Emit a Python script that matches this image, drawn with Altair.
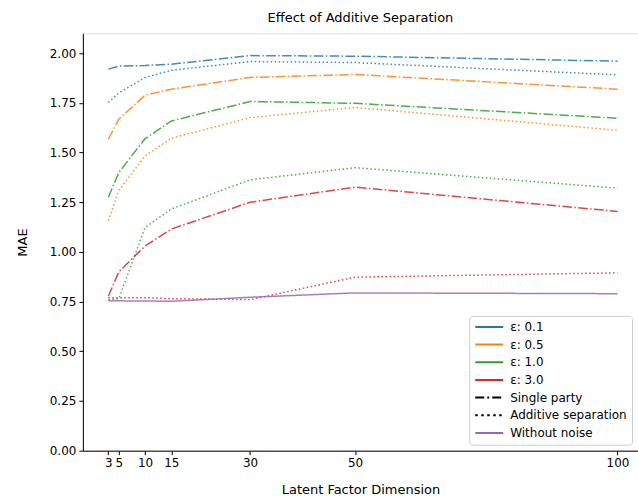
import altair as alt
import pandas as pd

dims = [3, 5, 10, 15, 30, 50, 100]
single_01 = [1.920, 1.935, 1.938, 1.945, 1.988, 1.985, 1.960]
add_01 = [1.752, 1.800, 1.878, 1.914, 1.958, 1.953, 1.891]
single_05 = [1.567, 1.668, 1.789, 1.819, 1.878, 1.893, 1.819]
add_05 = [1.157, 1.310, 1.483, 1.572, 1.676, 1.727, 1.612]
single_10 = [1.275, 1.400, 1.570, 1.659, 1.757, 1.748, 1.673]
add_10 = [0.760, 0.765, 1.123, 1.216, 1.363, 1.424, 1.321]
single_30 = [0.777, 0.900, 1.030, 1.115, 1.250, 1.326, 1.204]
add_30 = [0.769, 0.770, 0.770, 0.765, 0.760, 0.873, 0.895]
no_noise = [0.755, 0.754, 0.753, 0.752, 0.772, 0.794, 0.790]

legend_keys = ["ε: 0.1", "ε: 0.5", "ε: 1.0", "ε: 3.0", "Single party",
               "Additive separation", "Without noise"]

series = [
    ("0.1", "single", single_01), ("0.1", "additive", add_01),
    ("0.5", "single", single_05), ("0.5", "additive", add_05),
    ("1.0", "single", single_10), ("1.0", "additive", add_10),
    ("3.0", "single", single_30), ("3.0", "additive", add_30),
    ("none", "solid", no_noise),
]
rows = []
for eps, kind, vals in series:
    for d, v in zip(dims, vals):
        rows.append({"dim": d, "mae": v, "eps": eps, "kind": kind, "sid": eps + kind})
df = pd.DataFrame(rows)

leg_df = pd.DataFrame({"key": legend_keys, "dim": [3] * 7, "mae": [None] * 7})

DASHDOT = [9.6, 2.4, 1.5, 2.4]
DOT = [1.5, 2.5]
FONT = "DejaVu Sans"

xscale = alt.Scale(domain=[-1.85, 103.9], nice=False, zero=False)
yscale = alt.Scale(domain=[0, 2.1], nice=False)

xaxis = alt.Axis(values=dims, title="Latent Factor Dimension", grid=False,
                 tickSize=4, tickColor="black", domainColor="black",
                 labelColor="black", labelFontSize=12, labelFont=FONT,
                 titleFont=FONT, titleFontSize=13, titleFontWeight="normal",
                 titleColor="black", labelPadding=3, titlePadding=15,
                 labelFlush=False, labelOverlap=False)
yaxis = alt.Axis(values=[i * 0.25 for i in range(9)], format=".2f", title="MAE",
                 grid=False, tickSize=4, tickColor="black", domainColor="black",
                 labelColor="black", labelFontSize=12, labelFont=FONT,
                 titleFont=FONT, titleFontSize=13, titleFontWeight="normal",
                 titleColor="black", labelPadding=3, titlePadding=20)

lines = alt.Chart(df).mark_line(strokeWidth=1.5, opacity=0.85).encode(
    x=alt.X("dim:Q", scale=xscale, axis=xaxis),
    y=alt.Y("mae:Q", scale=yscale, axis=yaxis),
    color=alt.Color("eps:N", scale=alt.Scale(
        domain=["0.1", "0.5", "1.0", "3.0", "none"],
        range=["#1f77b4", "#ff7f0e", "#2ca02c", "#d62728", "#9467bd"]), legend=None),
    strokeDash=alt.StrokeDash("kind:N", scale=alt.Scale(
        domain=["single", "additive", "solid"],
        range=[DASHDOT, DOT, [1, 0]]), legend=None),
    detail="sid:N",
)

legend_cfg = dict(title=None, orient="none", legendX=387, legendY=283,
                  symbolType="M-1,0H4.6", symbolSize=100, symbolStrokeWidth=2,
                  labelFont=FONT, labelFontSize=12, labelColor="black",
                  rowPadding=5.7, padding=5, strokeColor="#cccccc",
                  fillColor="white", cornerRadius=3, labelOffset=24)

leg = alt.Chart(leg_df).mark_line(strokeWidth=1.5).encode(
    x=alt.X("dim:Q", scale=xscale),
    y=alt.Y("mae:Q", scale=yscale),
    color=alt.Color("key:N", scale=alt.Scale(
        domain=legend_keys,
        range=["#1f77b4", "#ff7f0e", "#2ca02c", "#d62728", "black", "black", "#9467bd"]),
        legend=alt.Legend(**legend_cfg)),
    strokeDash=alt.StrokeDash("key:N", scale=alt.Scale(
        domain=legend_keys,
        range=[[1, 0], [1, 0], [1, 0], [1, 0], [9, 3, 2, 3], [2.5, 3.5], [1, 0]]),
        legend=alt.Legend(**legend_cfg)),
)

chart = alt.layer(lines, leg).resolve_scale(
    color="independent", strokeDash="independent"
).properties(
    width=556, height=418,
    title=alt.TitleParams("Effect of Additive Separation", font=FONT, fontSize=13,
                          fontWeight="normal", color="black", offset=8),
    autosize=alt.AutoSizeParams(type="none"),
    padding={"left": 83, "top": 33, "right": 0, "bottom": 51},
).configure_view(stroke="black", strokeWidth=1).configure(background="white")

chart.save("out.html", embed_options={"renderer": "svg", "actions": False})
